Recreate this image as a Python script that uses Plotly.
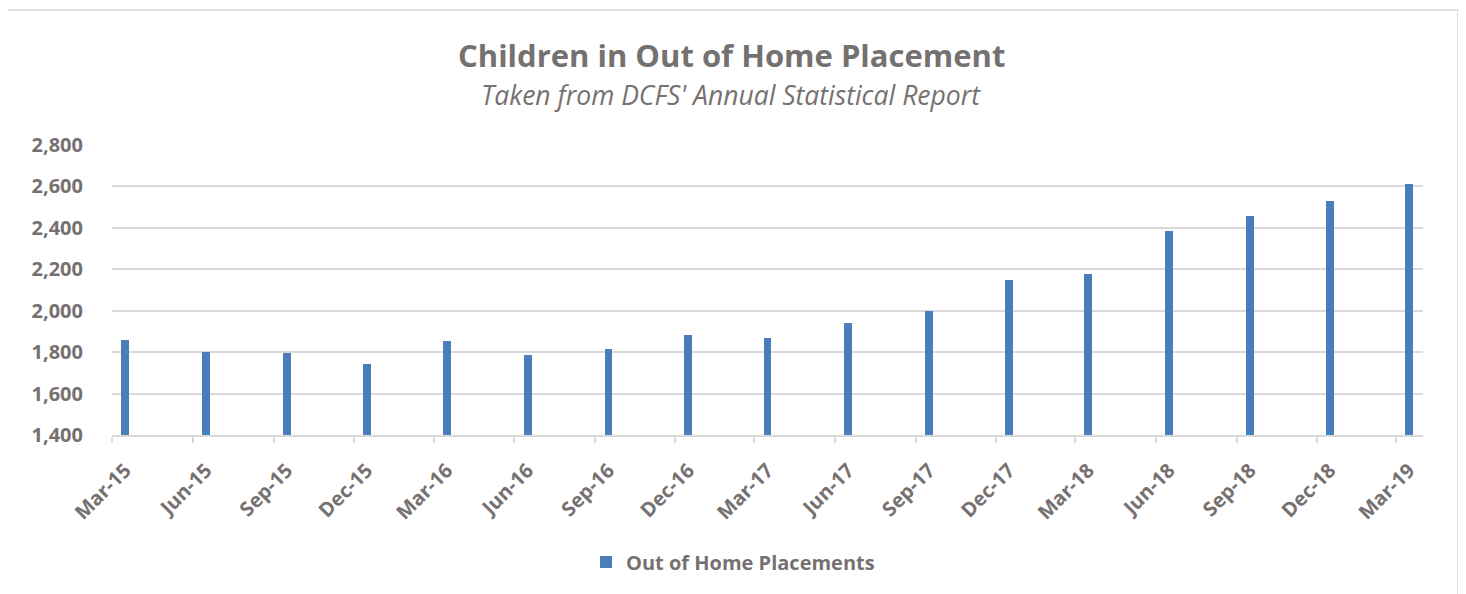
import plotly.graph_objects as go
import pandas as pd

categories = ["Mar-15", "Jun-15", "Sep-15", "Dec-15", "Mar-16", "Jun-16", "Sep-16", "Dec-16",
              "Mar-17", "Jun-17", "Sep-17", "Dec-17", "Mar-18", "Jun-18", "Sep-18", "Dec-18", "Mar-19"]
placements = [1858, 1801, 1796, 1745, 1855, 1787, 1816, 1881,
              1866, 1943, 2001, 2146, 2179, 2385, 2457, 2528, 2610]
y_ticks = [1400, 1600, 1800, 2000, 2200, 2400, 2600, 2800]

month_starts = pd.to_datetime(categories, format="%b-%y")
bar_dates = month_starts + pd.Timedelta(days=15)
axis_end = month_starts[-1] + pd.DateOffset(months=1)

TEXT = "#767171"
GRID = "#D9D9D9"
BAR = "#4A7EBB"
FONT = "Open Sans"

fig = go.Figure()
fig.add_trace(go.Bar(
    x=bar_dates, y=placements, name="<b>Out of Home Placements</b>",
    marker=dict(color=BAR, line=dict(width=0)),
    width=9 * 24 * 3600 * 1000,
    showlegend=True,
))

fig.update_layout(
    width=1466, height=594,
    paper_bgcolor="white", plot_bgcolor="white",
    margin=dict(l=104, r=51, t=137, b=167, autoexpand=False),
    font=dict(family=FONT, color=TEXT),
    showlegend=True,
    legend=dict(
        orientation="h", x=0.4737, xanchor="center", y=-0.438, yanchor="middle",
        font=dict(size=20, color=TEXT, family=FONT),
        itemwidth=30,
    ),
    bargap=0,
    annotations=[
        dict(text="<b>Children in Out of Home Placement</b>", xref="paper", yref="paper",
             x=0.4725, y=1.31, xanchor="center", yanchor="middle", showarrow=False,
             font=dict(size=31, color=TEXT, family=FONT)),
        dict(text="<i>Taken from DCFS' Annual Statistical Report</i>", xref="paper", yref="paper",
             x=0.4725, y=1.172, xanchor="center", yanchor="middle", showarrow=False,
             font=dict(size=26.5, color=TEXT, family=FONT)),
    ],
    shapes=[dict(type="rect", xref="paper", yref="paper",
                 x0=-0.0801, x1=1.0267, y0=-0.62, y1=1.4655,
                 line=dict(color=GRID, width=1.5), fillcolor="rgba(0,0,0,0)", layer="below")],
)

fig.update_xaxes(
    type="date", automargin=False,
    range=[month_starts[0], axis_end],
    tickvals=bar_dates, ticktext=[f"<b>{c}</b>" for c in categories],
    tickangle=-45, ticks="", ticklen=0,
    tickfont=dict(size=20, color=TEXT, family=FONT),
    ticklabelstandoff=14,
    showline=True, linecolor=GRID, linewidth=1.5,
    showgrid=False, zeroline=False,
    minor=dict(tickvals=month_starts, ticks="outside", ticklen=6, tickcolor=GRID, tickwidth=1.5, showgrid=False),
)
fig.update_yaxes(
    automargin=False,
    range=[1400, 2800], tickvals=y_ticks, ticktext=[f"<b>{v:,}</b>" for v in y_ticks],
    tickfont=dict(size=20, color=TEXT, family=FONT),
    showgrid=True, gridcolor=GRID, gridwidth=1.5,
    zeroline=False, showline=False, ticks="",
    ticklabelstandoff=28,
)

fig.write_html("out.html")
